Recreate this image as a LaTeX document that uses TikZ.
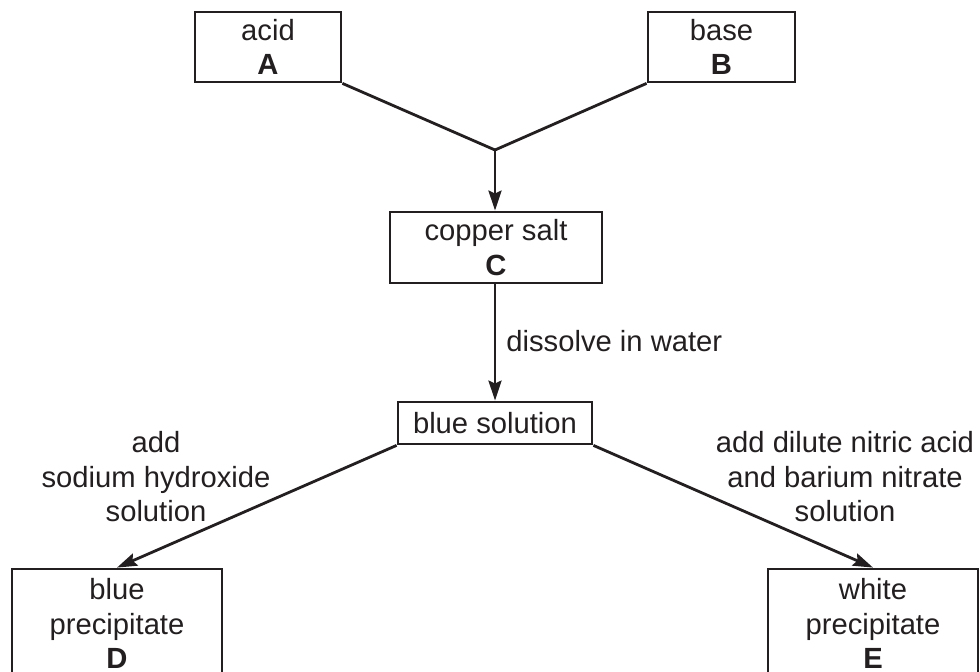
\documentclass[tikz,border=0pt]{standalone}
\usepackage{fontspec}
\setmainfont{Liberation Sans}
\usetikzlibrary{arrows.meta}
\definecolor{ink}{HTML}{231F20}
\begin{document}
\begin{tikzpicture}[x=0.5pt,y=-0.5pt,
  every node/.style={text=ink, font=\fontsize{14.6}{17.25}\selectfont, inner sep=0pt, align=center},
  box/.style={draw=ink, line width=1.4pt, fill=white},
  conn/.style={draw=ink, line width=1.4pt},
  arr/.style={conn, -{Stealth[length=10pt,width=6.5pt,inset=1.5pt]}}]
\useasboundingbox (0,0) rectangle (980,672);
\begin{scope}
\clip (0,0) rectangle (980,672);
\node[box, minimum width=73pt, minimum height=35pt] (A) at (268,47) {acid\\\textbf{A}};
\node[box, minimum width=73.5pt, minimum height=35pt] (B) at (721.5,47) {base\\\textbf{B}};
\node[box, minimum width=106pt, minimum height=35.5pt] (C) at (496,247.5) {copper salt\\\textbf{C}};
\node[box, minimum width=97pt, minimum height=21pt] (S) at (495,423) {blue solution};
\node[box, minimum width=105pt, minimum height=54.5pt] (D) at (117,623.5) {blue\\precipitate\\\textbf{D}};
\node[box, minimum width=105pt, minimum height=54.5pt] (E) at (873,623.5) {white\\precipitate\\\textbf{E}};
\coordinate (J) at (495,150);
\draw[conn] (A.south east) -- (J);
\draw[conn] (B.south west) -- (J);
\draw[arr] (J) -- (J |- C.north);
\draw[arr] (J |- C.south) -- (J |- S.north);
\node[anchor=base west] (dw) at (506,352) {dissolve in water};
\draw[arr] (S.south west) -- (D.north);
\draw[arr] (S.south east) -- (E.north);
\node (lnaoh) at (156,477) {add\\sodium hydroxide\\solution};
\node (lba) at (845,477) {add dilute nitric acid\\and barium nitrate\\solution};
\end{scope}
\end{tikzpicture}
\end{document}
